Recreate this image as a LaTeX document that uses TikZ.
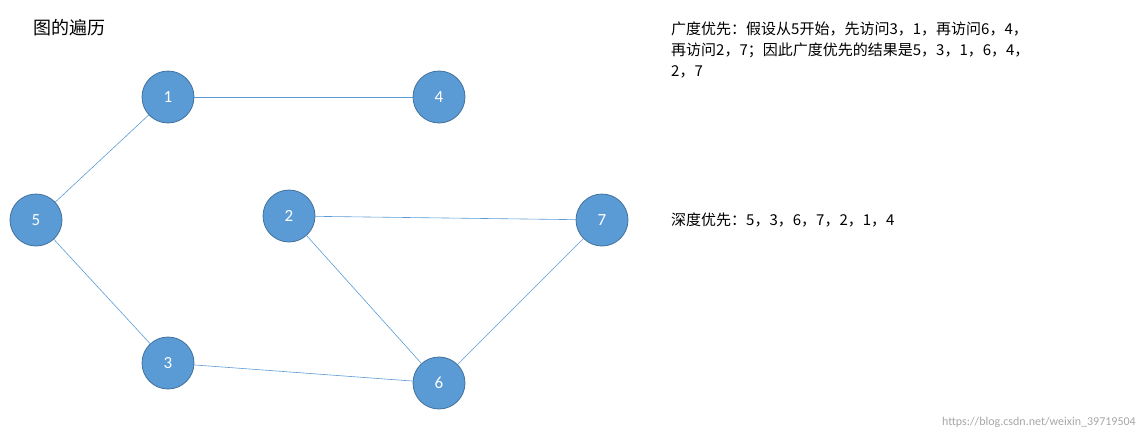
\documentclass[tikz,border=0pt]{standalone}
\usepackage{fontspec}
\setmainfont{Carlito}
\newfontfamily\cjk{Noto Sans CJK SC}
\definecolor{nfill}{HTML}{5B9BD5}
\definecolor{nline}{HTML}{41719C}
\begin{document}
\begin{tikzpicture}[x=1pt,y=-1pt,
  vert/.style={circle,fill=nfill,draw=nline,line width=0.8pt,minimum size=52pt,inner sep=0pt,text=white,font=\fontsize{17}{17}\selectfont},
  edge/.style={draw=nfill,line width=0.6pt},
  txt/.style={anchor=west,inner sep=0pt,font=\cjk\fontsize{15}{21}\selectfont,align=left}]
\useasboundingbox (0,0) rectangle (1144,439);
\node[vert] (n1) at (168,97) {1};
\node[vert] (n4) at (439,97) {4};
\node[vert] (n5) at (36,220) {5};
\node[vert] (n2) at (289,216) {2};
\node[vert] (n7) at (602,220) {7};
\node[vert] (n3) at (168,363) {3};
\node[vert] (n6) at (439,383) {6};
\draw[edge] (n1) -- (n4);
\draw[edge] (n1) -- (n5);
\draw[edge] (n5) -- (n3);
\draw[edge] (n3) -- (n6);
\draw[edge] (n2) -- (n6);
\draw[edge] (n2) -- (n7);
\draw[edge] (n7) -- (n6);
\node[txt,font=\cjk\fontsize{18}{18}\selectfont] (title) at (33,28) {图的遍历};
\node[txt,anchor=north west] (bfs) at (671,22) {广度优先：假设从5开始，先访问3，1，再访问6，4，\\再访问2，7；因此广度优先的结果是5，3，1，6，4，\\2，7};
\node[txt] (dfs) at (671,220) {深度优先：5，3，6，7，2，1，4};
\node[anchor=east,inner sep=0pt,text=gray!70,font=\fontsize{12}{12}\selectfont] (wm) at (1136,422) {https://blog.csdn.net/weixin\_39719504};
\end{tikzpicture}
\end{document}
